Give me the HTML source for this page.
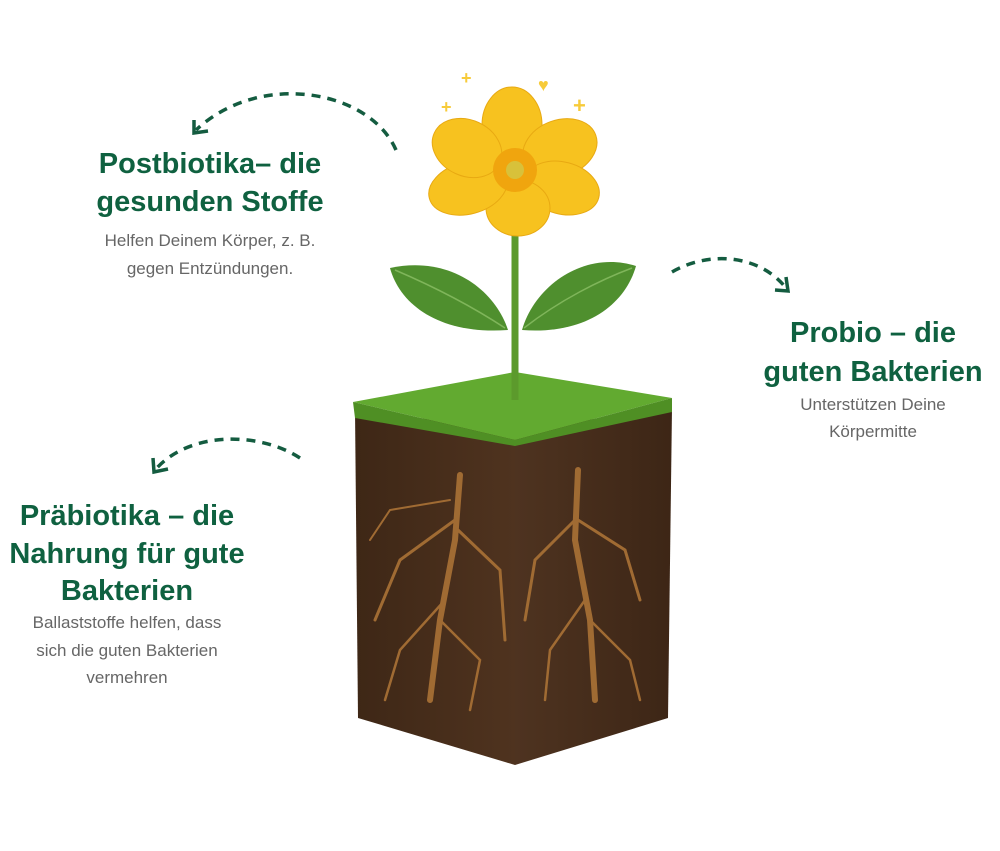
<!DOCTYPE html>
<html><head><meta charset="utf-8"><style>
html,body{margin:0;padding:0;background:#fff}
body{width:1000px;height:846px;overflow:hidden;font-family:"Liberation Sans",sans-serif}
</style></head><body>
<svg width="1000" height="846" viewBox="0 0 1000 846" xmlns="http://www.w3.org/2000/svg">
<defs>
<linearGradient id="lf" x1="0" x2="1"><stop offset="0" stop-color="#3e2716"/><stop offset="1" stop-color="#4f331f"/></linearGradient>
<linearGradient id="rf" x1="0" x2="1"><stop offset="0" stop-color="#4e3320"/><stop offset="1" stop-color="#3d2616"/></linearGradient>
</defs>
<g fill="none" stroke="#145c40" stroke-width="3.5" stroke-dasharray="9 7">
<path d="M396,150 C370,90 260,70 196,130"/>
<path d="M672,272 C710,250 760,255 786,288"/>
<path d="M300,458 C260,432 190,430 155,470"/>
</g>
<g fill="none" stroke="#145c40" stroke-width="3.5">
<path d="M194,120 L194,133 L208,131"/>
<path d="M775,290 L788,291 L786,277"/>
<path d="M153,458 L154,472 L168,469"/>
</g>
<!-- soil cube -->
<polygon points="355,410 515,430 515,765 358,718" fill="url(#lf)"/>
<polygon points="515,430 672,408 668,718 515,765" fill="url(#rf)"/>
<polygon points="353,402 515,372 672,398 515,440" fill="#62aa30"/>
<polygon points="353,402 515,440 515,446 355,418" fill="#4f8f24"/>
<polygon points="515,440 672,398 672,412 515,446" fill="#4f8f24"/>
<g fill="none" stroke="#a06b33" stroke-linecap="round">
<path d="M460,475 L455,540 L440,620 L430,700" stroke-width="6"/>
<path d="M455,520 L400,560 L375,620" stroke-width="3"/>
<path d="M458,530 L500,570 L505,640" stroke-width="3"/>
<path d="M445,600 L400,650 L385,700" stroke-width="2.5"/>
<path d="M440,620 L480,660 L470,710" stroke-width="2.5"/>
<path d="M450,500 L390,510 L370,540" stroke-width="2"/>
<path d="M578,470 L575,540 L590,620 L595,700" stroke-width="6"/>
<path d="M575,520 L535,560 L525,620" stroke-width="3"/>
<path d="M578,520 L625,550 L640,600" stroke-width="3"/>
<path d="M585,600 L550,650 L545,700" stroke-width="2.5"/>
<path d="M590,620 L630,660 L640,700" stroke-width="2.5"/>
</g>
<!-- plant -->
<path d="M515,225 L515,400" stroke="#5c9a2c" stroke-width="7"/>
<path d="M508,330 C495,290 450,255 390,268 C400,305 440,335 508,330 Z" fill="#4f8f2e"/>
<path d="M522,330 C535,285 585,250 636,266 C625,305 585,335 522,330 Z" fill="#4f8f2e"/>
<path d="M505,328 C470,305 430,285 395,270 M524,328 C560,300 600,280 632,268" stroke="#7fb55a" stroke-width="1.5" fill="none"/>
<g fill="#f7c21f" stroke="#e8a912" stroke-width="1">
<ellipse cx="512" cy="125" rx="30" ry="38"/>
<ellipse cx="560" cy="148" rx="38" ry="28" transform="rotate(-20 560 148)"/>
<ellipse cx="562" cy="188" rx="38" ry="26" transform="rotate(15 562 188)"/>
<ellipse cx="518" cy="208" rx="32" ry="28"/>
<ellipse cx="468" cy="188" rx="40" ry="26" transform="rotate(-15 468 188)"/>
<ellipse cx="467" cy="148" rx="36" ry="28" transform="rotate(25 467 148)"/>
</g>
<circle cx="515" cy="170" r="22" fill="#f0a50e"/>
<circle cx="515" cy="170" r="9" fill="#d8c13a"/>
<g fill="#f7cb3a" font-size="18" font-weight="bold">
<text x="461" y="84">+</text><text x="441" y="113">+</text><text x="573" y="113" font-size="22">+</text><text x="538" y="91">♥</text>
</g>
<!-- text -->
<g font-family="Liberation Sans,sans-serif" font-weight="bold" fill="#0f6140" font-size="29" text-anchor="middle">
<text x="210" y="173">Postbiotika– die</text>
<text x="210" y="211">gesunden Stoffe</text>
<text x="873" y="342">Probio – die</text>
<text x="873" y="381">guten Bakterien</text>
<text x="127" y="525">Präbiotika – die</text>
<text x="127" y="563">Nahrung für gute</text>
<text x="127" y="600">Bakterien</text>
</g>
<g font-family="Liberation Sans,sans-serif" fill="#666" font-size="17" text-anchor="middle">
<text x="210" y="246">Helfen Deinem Körper, z. B.</text>
<text x="210" y="274">gegen Entzündungen.</text>
<text x="873" y="410">Unterstützen Deine</text>
<text x="873" y="437">Körpermitte</text>
<text x="127" y="628">Ballaststoffe helfen, dass</text>
<text x="127" y="656">sich die guten Bakterien</text>
<text x="127" y="683">vermehren</text>
</g>
</svg>
</body></html>
